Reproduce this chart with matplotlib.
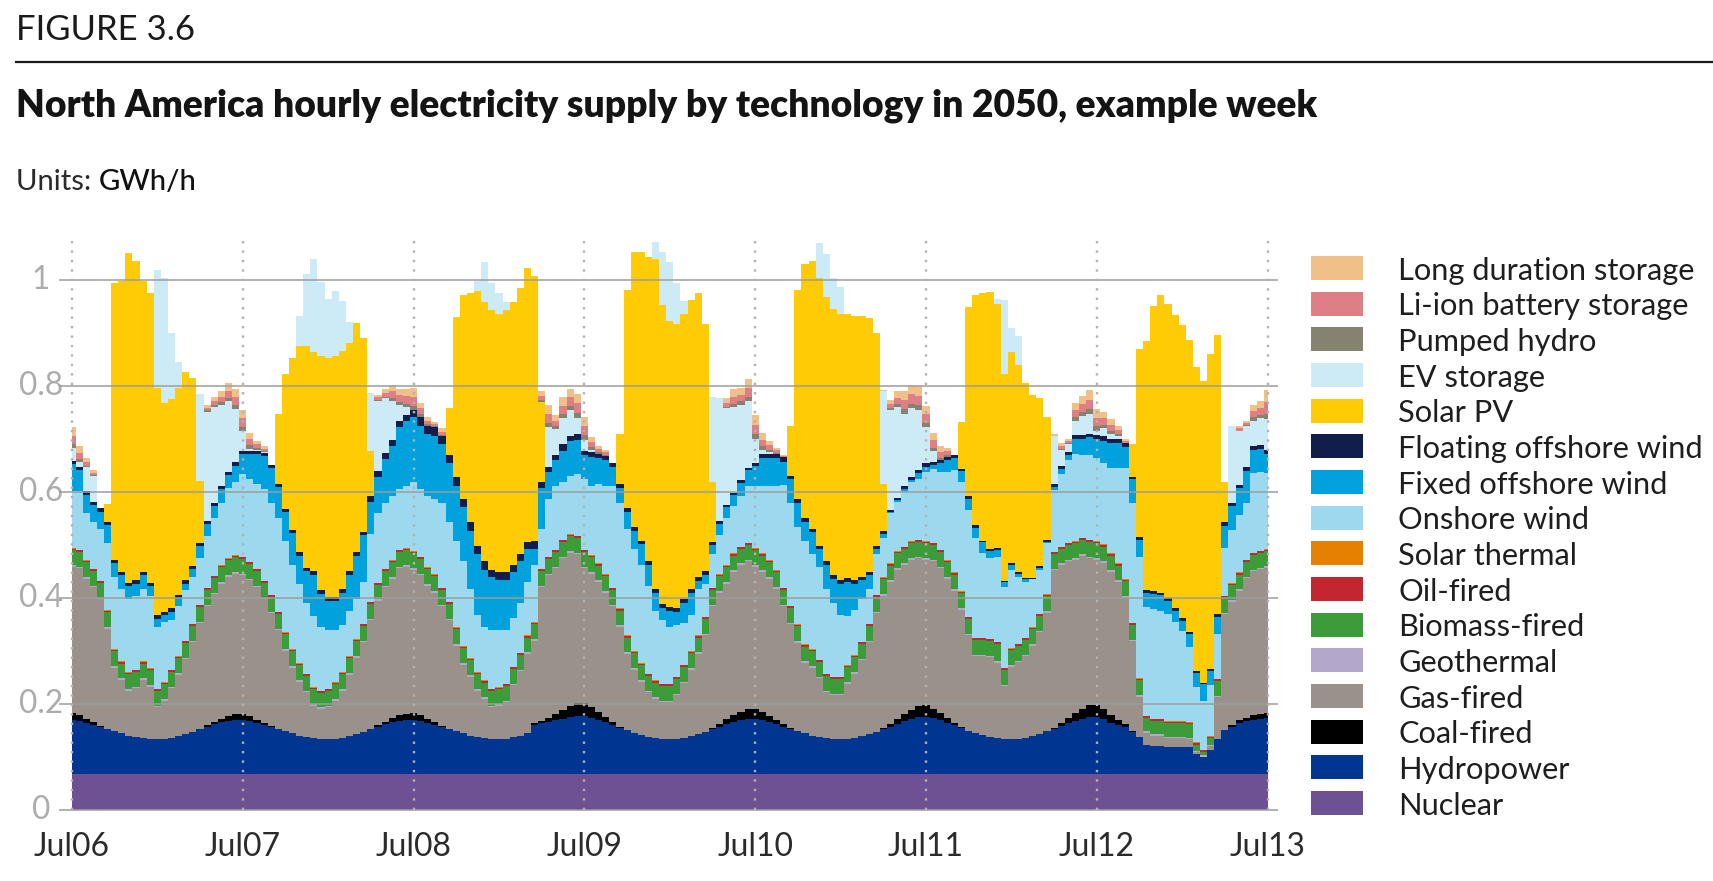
import numpy as np
import matplotlib
matplotlib.use("Agg")
import matplotlib.pyplot as plt
from matplotlib.patches import Rectangle
from matplotlib import transforms as mtransforms

# ---------------------------------------------------------------- data
DAY_LABELS = ["Jul06", "Jul07", "Jul08", "Jul09", "Jul10", "Jul11", "Jul12", "Jul13"]
Y_TICKS = [0, 0.2, 0.4, 0.6, 0.8, 1.0]
Y_TICK_LABELS = ["0", "0.2", "0.4", "0.6", "0.8", "1"]

# hourly supply (GWh/h), Jul06 00h ... Jul13 00h (169 values)
NUCLEAR = [0.068] * 169

HYDRO = (
    [.102, .100, .096, .092, .088, .084, .080, .076, .072, .069, .067, .065, .065, .066, .068, .071, .075, .079, .084, .089, .093, .097, .100, .102]
    + [.102, .100, .096, .092, .088, .084, .080, .076, .072, .069, .067, .065, .065, .066, .068, .071, .075, .079, .084, .089, .093, .097, .100, .102]
    + [.102, .100, .096, .092, .088, .084, .080, .076, .072, .069, .067, .065, .065, .066, .069, .072, .077, .092, .095, .098, .101, .104, .107, .109]
    + [.109, .106, .102, .097, .092, .087, .082, .077, .073, .069, .067, .065, .065, .066, .068, .071, .075, .079, .084, .089, .094, .098, .101, .104]
    + [.104, .102, .098, .094, .089, .084, .080, .076, .072, .069, .067, .065, .065, .066, .068, .071, .075, .079, .084, .089, .094, .099, .103, .107]
    + [.107, .105, .101, .096, .091, .086, .081, .077, .073, .069, .067, .065, .065, .066, .068, .071, .075, .080, .085, .090, .095, .099, .103, .107]
    + [.107, .103, .096, .092, .089, .079, .069, .054, .052, .052, .051, .051, .051, .051, .038, .031, .045, .065, .082, .089, .096, .099, .102, .104]
    + [.106]
)

COAL = (
    [.012, .010, .007, .005, .002, .001, 0, 0, 0, 0, 0, 0, 0, 0, 0, 0, 0, 0, .001, .003, .005, .007, .008, .010]
    + [.010, .008, .006, .004, .002, .001, 0, 0, 0, 0, 0, 0, 0, 0, 0, 0, 0, 0, .001, .003, .005, .008, .010, .011]
    + [.012, .010, .007, .005, .002, .001, 0, 0, 0, 0, 0, 0, 0, 0, 0, 0, 0, .003, .005, .008, .011, .016, .020, .024]
    + [.025, .020, .015, .010, .005, .002, 0, 0, 0, 0, 0, 0, 0, 0, 0, 0, 0, 0, .002, .005, .009, .012, .015, .018]
    + [.019, .015, .011, .008, .004, .002, 0, 0, 0, 0, 0, 0, 0, 0, 0, 0, 0, 0, .002, .005, .010, .014, .018, .021]
    + [.022, .018, .013, .009, .004, .002, 0, 0, 0, 0, 0, 0, 0, 0, 0, 0, 0, 0, .002, .006, .010, .015, .019, .022]
    + [.023, .019, .014, .010, .005, .002, 0, 0, 0, 0, 0, 0, 0, 0, 0, 0, 0, 0, .001, .003, .005, .007, .008, .009]
    + [.008]
)

GAS = (
    [.277, .278, .265, .255, .239, .189, .120, .101, .085, .092, .110, .099, .060, .072, .093, .116, .141, .169, .199, .224, .241, .255, .264, .266]
    + [.263, .257, .250, .233, .213, .186, .152, .124, .102, .085, .061, .057, .060, .072, .089, .116, .144, .169, .205, .234, .254, .263, .278, .278]
    + [.271, .265, .252, .245, .226, .205, .162, .130, .111, .088, .074, .060, .063, .069, .098, .121, .149, .156, .252, .269, .276, .287, .290, .281]
    + [.254, .252, .245, .235, .219, .188, .144, .119, .101, .085, .074, .070, .070, .082, .103, .125, .151, .182, .230, .248, .256, .271, .278, .279]
    + [.268, .264, .259, .247, .223, .196, .167, .133, .128, .111, .087, .083, .083, .104, .121, .143, .173, .224, .250, .268, .281, .281, .283, .279]
    + [.275, .278, .274, .263, .250, .222, .180, .145, .149, .151, .142, .100, .137, .144, .154, .171, .192, .224, .297, .298, .296, .290, .289, .278]
    + [.274, .276, .271, .260, .238, .169, .076, .023, .020, .020, .016, .016, .016, .014, .002, .001, .007, .079, .218, .233, .244, .263, .272, .273]
    + [.275]
)

GEOTHERMAL = [0.003] * 169

BIOMASS = (
    [.028] * 24 * 5
    + [.028] * 10 + [.033] + [.028] * 13
    + [.028] * 7 + [.025] * 7 + [.012, .006, .012] + [.028] * 7
    + [.028]
)

OIL = [0.003] * 169
SOLAR_THERMAL = [0.001] * 169

ONSHORE = (
    [.108, .111, .089, .088, .098, .127, .137, .137, .137, .140, .137, .137, .117, .114, .094, .094, .095, .089, .088, .098, .108, .117, .133, .137]
    + [.156, .157, .160, .173, .173, .176, .173, .159, .150, .133, .134, .120, .111, .098, .089, .085, .075, .079, .128, .131, .124, .121, .114, .118]
    + [.130, .127, .134, .141, .160, .150, .163, .160, .131, .108, .101, .111, .108, .101, .092, .095, .101, .108, .075, .108, .121, .108, .111, .117]
    + [.134, .131, .150, .167, .193, .199, .202, .193, .185, .166, .131, .120, .107, .098, .078, .069, .088, .063, .063, .073, .088, .089, .095, .108]
    + [.118, .128, .141, .160, .195, .194, .184, .196, .179, .176, .160, .140, .117, .092, .086, .080, .066, .076, .075, .095, .094, .105, .111, .115]
    + [.131, .140, .147, .167, .193, .205, .202, .189, .160, .152, .161, .152, .147, .127, .105, .090, .083, .096, .116, .137, .156, .165, .155, .159]
    + [.158, .154, .161, .180, .210, .227, .230, .205, .207, .203, .202, .188, .171, .142, .105, .092, .096, .084, .091, .101, .108, .108, .150, .149]
    + [.143]
)

FIXED_OFFSHORE = (
    [.050, .039, .035, .033, .033, .033, .026, .026, .026, .023, .026, .019, .016, .013, .016, .016, .013, .015, .023, .023, .023, .026, .024, .032]
    + [.038, .047, .057, .063, .066, .060, .054, .060, .053, .060, .078, .063, .056, .056, .061, .068, .082, .088, .060, .068, .083, .095, .118, .122]
    + [.124, .120, .117, .120, .111, .111, .104, .102, .110, .114, .108, .101, .094, .094, .087, .078, .062, .030, .078, .052, .048, .059, .065, .065]
    + [.045, .055, .049, .048, .035, .029, .032, .035, .039, .039, .035, .023, .030, .024, .039, .042, .015, .016, .017, .022, .021, .021, .025, .029]
    + [.038, .053, .053, .053, .043, .046, .045, .035, .042, .033, .045, .045, .059, .065, .049, .036, .026, .010, .006, .002, .003, .004, .004, .010]
    + [.009, .007, .017, .022, .023, .022, .020, .018, .020, .013, .012, .010, .010, .006, .005, .001, .004, .002, .006, .010, .010, .028, .031, .034]
    + [.035, .042, .047, .047, .040, .044, .032, .028, .029, .030, .026, .020, .019, .025, .026, .032, .027, .033, .041, .045, .051, .060, .045, .044]
    + [.037]
)

FLOATING_OFFSHORE = (
    [.006] * 24
    + [.005, .005, .005, .005, .006, .006, .006, .006, .006, .006, .007, .007, .007, .007, .007, .007, .007, .007, .012, .012, .012, .012, .012, .012]
    + [.013, .017, .016, .016, .016, .016, .016, .015, .017, .016, .016, .013, .016, .016, .013, .013, .013, .016, .010, .009, .010, .013, .010, .010]
    + [.008, .008, .008, .008, .007, .007, .007, .007, .007, .007, .007, .007, .007, .007, .007, .007, .007, .007, .007, .005, .005, .005, .005, .005]
    + [.005, .007, .007, .007, .010, .006, .007, .007, .007, .006, .007, .007, .006, .007, .006, .007, .006, .006, .007, .004, .004, .006, .006, .006]
    + [.007, .006, .005, .007, .006, .004, .006, .005, .003, .004, .004, .002, .004, .003, .003, .001, .003, .005, .006, .006, .006, .007, .007, .007]
    + [.008, .008, .008, .008, .007, .004, .005, .005, .005, .005, .005, .005, .005, .003, .004, .003, .003, .006, .007, .006, .007, .008, .006, .007]
    + [.008]
)

SOLAR_PV = (
    [0, 0, 0, 0, 0, .035, .522, .549, .623, .604, .549, .546, .430, .394, .395, .391, .394, .355, .117, 0, 0, 0, 0, 0]
    + [0, 0, 0, 0, 0, .132, .255, .325, .390, .420, .415, .442, .451, .455, .449, .432, .433, .365, .084, 0, 0, 0, 0, 0]
    + [0, 0, 0, 0, 0, .088, .302, .386, .431, .482, .490, .490, .487, .494, .497, .503, .519, .500, .152, 0, 0, 0, 0, 0]
    + [0, 0, 0, 0, 0, .094, .412, .519, .545, .575, .623, .565, .541, .537, .538, .545, .536, .467, .112, 0, 0, 0, 0, 0]
    + [0, 0, 0, 0, 0, .094, .396, .480, .506, .507, .500, .503, .503, .499, .500, .493, .480, .402, .088, 0, 0, 0, 0, 0]
    + [0, 0, 0, 0, 0, .088, .358, .435, .467, .485, .461, .391, .399, .390, .368, .347, .317, .232, 0, 0, 0, 0, 0, 0]
    + [0, 0, 0, 0, 0, .062, .355, .470, .539, .563, .556, .555, .553, .552, .574, .569, .595, .526, .075, 0, 0, 0, 0, 0]
    + [0]
)

EV_STORAGE = (
    [.025, .010, .046, .048, 0, 0, 0, 0, 0, 0, 0, 0, .222, .237, .126, .048, 0, 0, .165, .206, .181, .154, .133, .101]
    + [.039, .005, .003, .003, 0, 0, 0, 0, .057, .135, .175, .139, .111, .122, .094, .040, 0, 0, .110, .131, .103, .072, .029, .015]
    + [0, 0, 0, 0, 0, 0, 0, 0, 0, .018, .075, .052, .039, .016, 0, 0, 0, 0, 0, .075, .049, .050, .049, .031]
    + [.021, .005, 0, 0, 0, 0, 0, 0, 0, 0, .033, .100, .111, .078, .024, 0, 0, 0, .162, .232, .182, .161, .142, .125]
    + [.045, .008, .003, 0, 0, 0, 0, 0, 0, .065, .081, .059, .052, 0, 0, 0, 0, 0, .175, .188, .171, .136, .130, .114]
    + [.068, .020, 0, 0, 0, 0, 0, 0, 0, 0, .010, .139, .045, .055, 0, 0, 0, 0, .090, .030, .014, .027, .037, .038]
    + [.008, .015, .010, .005, 0, 0, 0, 0, 0, 0, 0, 0, 0, 0, 0, 0, 0, 0, 0, .144, .101, .077, .049, .051]
    + [.057]
)

PUMPED_HYDRO = (
    [.007, .005, .003, .002] + [0] * 15 + [.002, .004, .005, .006, .007]
    + [.007, .006, .003, .002] + [0] * 15 + [.003, .003, .006, .006, .006]
    + [.008, .005, .003, .002, .002] + [0] * 13 + [.004, .008, .005, .007, .008, .009]
    + [.008, .005, .003, .002] + [0] * 16 + [.003, .006, .007, .008]
    + [.009, .006, .004, .002, 0] + [0] * 13 + [0, .004, .006, .008, .009, .009]
    + [.008, .007, .005, .003] + [0] * 14 + [0, .002, .002, .007, .008, .008]
    + [.008, .006, .006, .004, 0] + [0] * 15 + [.001, .001, .006, .006]
    + [.011]
)

LI_ION = (
    [.016, .012, .007, .004] + [0] * 15 + [.005, .008, .010, .014, .015]
    + [.016, .012, .007, .004] + [0] * 15 + [.005, .007, .013, .013, .014]
    + [.017, .011, .007, .004, .006] + [0] * 13 + [.008, .017, .011, .016, .016, .019]
    + [.017, .009, .006, .005] + [0] * 16 + [.008, .014, .013, .017]
    + [.018, .013, .009, .005, .001] + [0] * 13 + [0, .008, .012, .017, .018, .018]
    + [.017, .014, .011, .007] + [0] * 14 + [0, .005, .004, .014, .015, .018]
    + [.016, .013, .011, .008, .004] + [0] * 15 + [.004, .004, .012, .013]
    + [.022]
)

LONG_DURATION = (
    [.016, .012, .008, .005] + [0] * 15 + [.005, .008, .010, .014, .015]
    + [.016, .012, .006, .004] + [0] * 15 + [.005, .007, .013, .012, .013]
    + [.017, .010, .007, .004, .006] + [0] * 13 + [.008, .017, .010, .016, .016, .018]
    + [.017, .009, .006, .005] + [0] * 16 + [.008, .014, .013, .017]
    + [.018, .013, .008, .004, .002] + [0] * 13 + [.002, .008, .012, .017, .018, .018]
    + [.016, .014, .010, .006] + [0] * 14 + [.005, .005, .004, .014, .015, .018]
    + [.016, .013, .011, .008, .004] + [0] * 15 + [.004, .004, .012, .012]
    + [.022]
)

# stacking order: bottom -> top
STACK = [
    ("Nuclear", NUCLEAR, "#6d5192"),
    ("Hydropower", HYDRO, "#003591"),
    ("Coal-fired", COAL, "#000000"),
    ("Gas-fired", GAS, "#9a918a"),
    ("Geothermal", GEOTHERMAL, "#b4a7cc"),
    ("Biomass-fired", BIOMASS, "#3d9c3a"),
    ("Oil-fired", OIL, "#c3262f"),
    ("Solar thermal", SOLAR_THERMAL, "#e68000"),
    ("Onshore wind", ONSHORE, "#9cd9ef"),
    ("Fixed offshore wind", FIXED_OFFSHORE, "#00a1dd"),
    ("Floating offshore wind", FLOATING_OFFSHORE, "#111d4a"),
    ("Solar PV", SOLAR_PV, "#ffcb05"),
    ("EV storage", EV_STORAGE, "#cdebf6"),
    ("Pumped hydro", PUMPED_HYDRO, "#858270"),
    ("Li-ion battery storage", LI_ION, "#de7f85"),
    ("Long duration storage", LONG_DURATION, "#f0c088"),
]

n = len(NUCLEAR)
for name, vals, _ in STACK:
    assert len(vals) == n, (name, len(vals))

# ---------------------------------------------------------------- figure
plt.rcParams['font.family'] = ['Lato', 'DejaVu Sans']
W, H = 1713, 881
fig = plt.figure(figsize=(W / 100, H / 100), dpi=100)
renderer = fig.canvas.get_renderer()


def fit(t, width_px):
    w = t.get_window_extent(renderer).width
    t.set_fontsize(t.get_fontsize() * width_px / w)
    return t.get_fontsize()


ax = fig.add_axes([0.042, 0.081, 0.698, 0.649])
hours = np.arange(n)
ax.stackplot(hours, *[np.array(v) for _, v, _ in STACK],
             colors=[c for _, _, c in STACK], step='mid',
             linewidth=0, antialiased=False, zorder=2)
ax.set_xlim(0, n - 1)
ax.set_ylim(0, 1.08)
ax.axis('off')

# horizontal grid lines drawn over the areas
for v in Y_TICKS:
    ax.plot([-0.0105, 1.009], [v, v], transform=ax.get_yaxis_transform(),
            color='#9d9d9d', lw=1.1, zorder=5, clip_on=False,
            solid_capstyle='butt')

# vertical dotted day separators
for d in range(len(DAY_LABELS)):
    ax.plot([d * 24, d * 24], [0, 1.08], color='#b2b2b2', lw=1.7,
            linestyle=(0, (1, 3.0)), zorder=6, clip_on=False)

# y tick labels
ytexts = []
for v, lab in zip(Y_TICKS, Y_TICK_LABELS):
    t = ax.text(-0.026, v, lab, transform=ax.get_yaxis_transform(),
                ha='center', va='center', color='#acacac', fontsize=18)
    ytexts.append(t)
ysize = fit(ytexts[4], 44)
for t in ytexts:
    t.set_fontsize(ysize)

# x tick labels
xform = mtransforms.blended_transform_factory(ax.transData, fig.transFigure)
xl = []
for d, lab in enumerate(DAY_LABELS):
    t = ax.text(d * 24, 0.0386, lab, ha='center', va='center', color='#2b2b2b',
                fontsize=18, transform=xform)
    xl.append(t)
xs = fit(xl[0], 76)
for t in xl:
    t.set_fontsize(xs)

# header
t = fig.text(0.0094, 0.9545, "FIGURE 3.6", ha='left', va='baseline',
             color='#1a1a1a', fontsize=20)
fit(t, 178)
fig.add_artist(plt.Line2D([0.0094, 1.0], [0.9296, 0.9296], color='#1a1a1a',
                          lw=1.6, transform=fig.transFigure))
t = fig.text(0.0094, 0.8672,
             "North America hourly electricity supply by technology in 2050, example week",
             ha='left', va='baseline', color='#141414', fontsize=20,
             fontweight='heavy')
fit(t, 1298)

# "Units: GWh/h" with the unit slightly heavier
u1 = fig.text(0.0094, 0.7843, "Units: ", ha='left', va='baseline',
              color='#2a2a2a', fontsize=18)
u2 = fig.text(0.0094, 0.7843, "GWh/h", ha='left', va='baseline',
              color='#111111', fontsize=18, fontweight='medium')
w1 = u1.get_window_extent(renderer).width
w2 = u2.get_window_extent(renderer).width
scale = 181.0 / (w1 + w2)
u1.set_fontsize(18 * scale)
u2.set_fontsize(18 * scale)
w1 = u1.get_window_extent(renderer).width
u2.set_x(0.0094 + w1 / W)

# legend (top -> bottom)
legend_items = list(reversed(STACK))
y0, dy = 0.6958, 0.04049
texts = []
for i, (name, _, col) in enumerate(legend_items):
    yc = y0 - i * dy
    fig.add_artist(Rectangle((0.7653, yc - 0.0136), 0.0304, 0.0272,
                             transform=fig.transFigure, facecolor=col,
                             edgecolor='none'))
    tt = fig.text(0.8163, yc, name, ha='left', va='center_baseline',
                  color='#1e1e1e', fontsize=18)
    texts.append(tt)
leg_size = fit(texts[5], 304)
for tt in texts:
    tt.set_fontsize(leg_size)

fig.savefig("out.png", dpi=100)
